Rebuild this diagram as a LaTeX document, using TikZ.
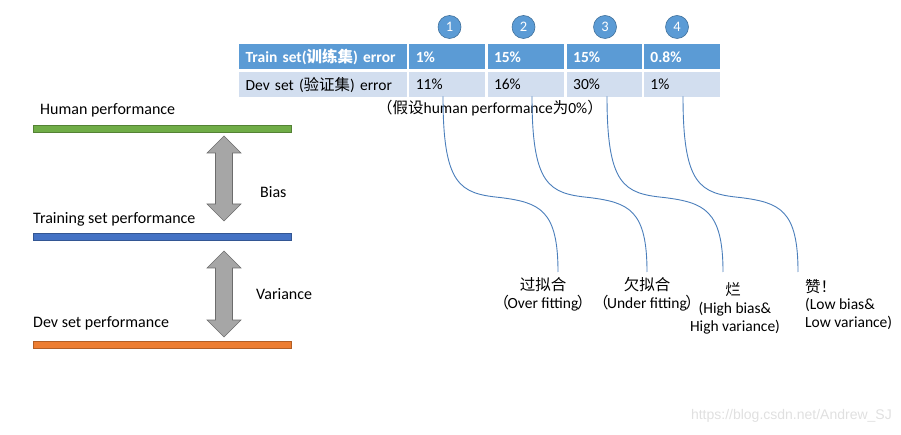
\documentclass[tikz,border=0pt]{standalone}
\usepackage{fontspec}
\setmainfont{Carlito}
\newfontfamily\cjk{Noto Sans CJK SC}
\newfontfamily\wmfont{Liberation Sans}
\definecolor{hdrblue}{HTML}{5B9BD5}
\definecolor{rowblue}{HTML}{D2DEEF}
\definecolor{circedge}{HTML}{41719C}
\definecolor{linkblue}{HTML}{4A7EBB}
\definecolor{bargreen}{HTML}{70AD47}
\definecolor{barblue}{HTML}{4472C4}
\definecolor{barorange}{HTML}{ED7D31}
\definecolor{arrgray}{HTML}{A6A6A6}
\newcommand{\lpar}{{\cjk （}\kern-1.5pt}
\newcommand{\rpar}{\kern-1.5pt{\cjk ）}}
\begin{document}
\begin{tikzpicture}[x=1pt,y=-1pt,
  txt/.style={font=\fontsize{15.5}{18}\selectfont, inner sep=0pt},
  lefttxt/.style={font=\fontsize{16}{19}\selectfont, inner sep=0pt, anchor=west},
  cell/.style={draw=white, line width=1.2pt, minimum height=26.5pt, anchor=north west,
     inner xsep=7pt, inner ysep=0pt, align=left, font=\fontsize{15.5}{18}\selectfont},
  hcell/.style={cell, fill=hdrblue, text=white, font=\fontsize{15.5}{18}\selectfont\bfseries},
  dcell/.style={cell, fill=rowblue, text=black},
  numcirc/.style={circle, fill=hdrblue, draw=circedge, line width=0.6pt, minimum size=23pt,
     inner sep=0pt, text=white, font=\fontsize{14.5}{16}\selectfont},
  conn/.style={draw=linkblue, line width=0.9pt},
  gaparrow/.style={fill=arrgray, draw=gray!85!black, line width=0.6pt},
  bar/.style={line width=0.6pt}]
\useasboundingbox (0,0) rectangle (901,435);

% ---- table ----
\node[hcell, text width=155pt] (t11) at (238,43) {Train set({\cjk 训练集}) error};
\node[hcell, text width=63pt] (t12) at (t11.north east) {1\%};
\node[hcell, text width=64pt] (t13) at (t12.north east) {15\%};
\node[hcell, text width=62pt] (t14) at (t13.north east) {15\%};
\node[hcell, text width=63pt] (t15) at (t14.north east) {0.8\%};
\node[dcell, text width=155pt] (t21) at (t11.south west) {Dev set ({\cjk 验证集}) error};
\node[dcell, text width=63pt] (t22) at (t21.north east) {11\%};
\node[dcell, text width=64pt] (t23) at (t22.north east) {16\%};
\node[dcell, text width=62pt] (t24) at (t23.north east) {30\%};
\node[dcell, text width=63pt] (t25) at (t24.north east) {1\%};

% ---- numbered circles ----
\node[numcirc] (n1) at (449.5,27) {1};
\node[numcirc] (n2) at (523.5,27) {2};
\node[numcirc] (n3) at (605,27) {3};
\node[numcirc] (n4) at (677,27) {4};

% ---- assumption note ----
\node[txt] (note) at (490,108) {{\cjk （假设}human performance{\cjk 为}0\%{\cjk ）}};

% ---- left panel ----
\node[lefttxt] (hp) at (40,110) {Human performance};
\draw[bar, fill=bargreen, draw=bargreen!75!black] (33,125) rectangle (291,132);
\node[lefttxt] (tp) at (33,219) {Training set performance};
\draw[bar, fill=barblue, draw=barblue!75!black] (33,233) rectangle (291,240);
\node[lefttxt] (dp) at (33,323) {Dev set performance};
\draw[bar, fill=barorange, draw=barorange!75!black] (33,341) rectangle (291,348);

\draw[gaparrow] (224,136) -- (241,153) -- (232.5,153) -- (232.5,204) -- (241,204)
  -- (224,221) -- (207,204) -- (215.5,204) -- (215.5,153) -- (207,153) -- cycle;
\draw[gaparrow] (224,251) -- (241,268) -- (232.5,268) -- (232.5,320) -- (241,320)
  -- (224,337) -- (207,320) -- (215.5,320) -- (215.5,268) -- (207,268) -- cycle;
\node[lefttxt] (bias) at (260,192) {Bias};
\node[lefttxt] (var) at (256,294) {Variance};

% ---- connectors ----
\coordinate (k1a) at (443,96.5);  \coordinate (k1b) at (558,272);
\coordinate (k2a) at (532,96.5);  \coordinate (k2b) at (647,272);
\coordinate (k3a) at (607,96.5);  \coordinate (k3b) at (723,272);
\coordinate (k4a) at (683,96.5);  \coordinate (k4b) at (798,272);
\foreach \k in {1,2,3,4}{
  \draw[conn] (k\k a) .. controls +(0,89) and +(-40,-4) .. ++(57,101)
     .. controls +(40,5) and +(0,-62) .. (k\k b);
}

% ---- outcome labels ----
\node[txt] (o1a) at (543,285) {\cjk 过拟合};
\node[txt] (o1b) at (543,303) {\lpar Over fitting\rpar};
\node[txt] (o2a) at (647,285) {\cjk 欠拟合};
\node[txt] (o2b) at (647,303) {\lpar Under fitting\rpar};
\node[txt] (o3a) at (733,290) {\cjk 烂};
\node[txt] (o3b) at (735,309) {(High bias\&};
\node[txt] (o3c) at (735,327) {High variance)};
\node[txt, anchor=west] (o4a) at (805,287) {\cjk 赞！};
\node[txt, anchor=west] (o4b) at (805,305) {(Low bias\&};
\node[txt, anchor=west] (o4c) at (805,323) {Low variance)};

% ---- watermark ----
\node[inner sep=0pt, anchor=east, text=black!12, font=\wmfont\fontsize{14}{16}\selectfont] (wm) at (892,416) {https://blog.csdn.net/Andrew\_SJ};
\end{tikzpicture}
\end{document}
